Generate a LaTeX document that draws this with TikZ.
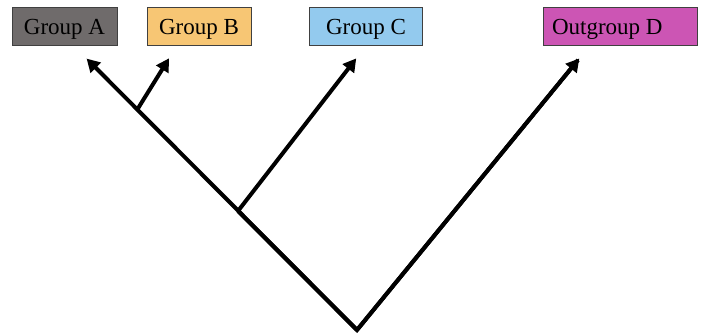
\documentclass[tikz,border=0pt]{standalone}
\usepackage{fontspec}
\setmainfont{Liberation Serif}
\usetikzlibrary{arrows.meta}
\definecolor{cA}{HTML}{6F6B6B}
\definecolor{cB}{HTML}{F7C674}
\definecolor{cC}{HTML}{93CAEE}
\definecolor{cD}{HTML}{CC55B4}
\tikzset{
  grp/.style={draw=black!75, line width=0.8pt, minimum height=38pt, inner xsep=0pt, inner ysep=0pt, text height=16pt, text depth=0pt, font=\fontsize{23}{26}\selectfont, text=black},
  branch/.style={line width=4pt, line cap=butt, -{Triangle[length=13pt,width=14pt]}},
  stem/.style={line width=4pt, line join=miter}
}
\begin{document}
\begin{tikzpicture}[x=1pt,y=-1pt]
\useasboundingbox (0,0) rectangle (703,335);
\node[grp, fill=cA, minimum width=105pt] (A) at (64.5,26) {Group A};
\node[grp, fill=cB, minimum width=104pt] (B) at (199,26) {Group B};
\node[grp, fill=cC, minimum width=113pt] (C) at (366,26) {Group C};
\node[grp, fill=cD, minimum width=154pt] (D) at (620,26) {\makebox[136pt][l]{Outgroup D}};
\coordinate (root) at (357,330);
\coordinate (nB) at (137,110);
\coordinate (nC) at (238,211);
\coordinate (tA) at (88,60);
\coordinate (tB) at (168,60);
\coordinate (tC) at (355,60);
\coordinate (tD) at (578,60);
\draw[stem] (nC) -- (root) -- (tD);
\draw[branch, shorten >=-2pt] (root) -- (tD);
\draw[branch, shorten >=-2pt] (root) -- (tA);
\draw[branch, shorten >=-2pt] (nB) -- (tB);
\draw[branch, shorten >=-2pt] (nC) -- (tC);
\end{tikzpicture}
\end{document}
